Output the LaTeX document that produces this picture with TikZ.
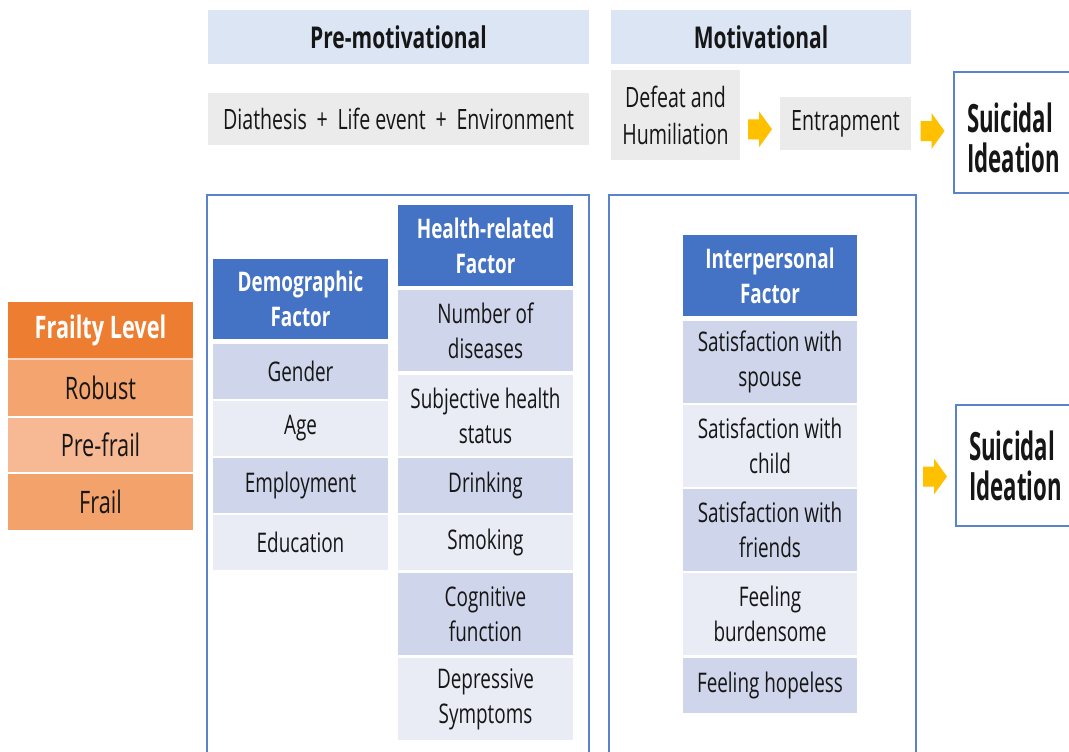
\documentclass[tikz,border=0pt]{standalone}
\usepackage{fontspec}
\setmainfont{Open Sans}[FakeStretch=0.70]
\newfontfamily\sifont{Open Sans}[FakeStretch=0.57]
\usetikzlibrary{calc}

\definecolor{hdrblue}{HTML}{DCE5F4}
\definecolor{boxgray}{HTML}{EBEBEB}
\definecolor{accblue}{HTML}{4472C4}
\definecolor{rowdark}{HTML}{CFD5EA}
\definecolor{rowlight}{HTML}{E9EBF5}
\definecolor{linkblue}{HTML}{5B83CC}
\definecolor{orghead}{HTML}{ED7D31}
\definecolor{orgrow}{HTML}{F4A46F}
\definecolor{orgrowlt}{HTML}{F7B894}
\definecolor{arrowgold}{HTML}{FFC000}
\definecolor{ink}{HTML}{161616}

\tikzset{
  base/.style={rectangle, inner sep=0pt, outer sep=0pt, anchor=north west,
    align=center, text=ink},
  body/.style={base, font=\fontsize{27}{35}\selectfont},
  phase/.style={base, fill=hdrblue, font=\fontsize{30}{35}\selectfont\bfseries},
  graybox/.style={base, fill=boxgray, font=\fontsize{28}{37}\selectfont},
  bluehead/.style={base, fill=accblue, text=white, font=\fontsize{27}{35}\selectfont\bfseries},
  dark/.style={body, fill=rowdark},
  light/.style={body, fill=rowlight},
  frailhead/.style={base, fill=orghead, text=white, font=\fontsize{31}{35}\selectfont\bfseries},
  frailrow/.style={base, font=\fontsize{31}{35}\selectfont},
  frame/.style={draw=linkblue, line width=1.3pt},
  sibox/.style={base, draw=linkblue, line width=1.3pt, fill=white, align=left,
    text width=95pt, inner xsep=13pt, minimum width=121pt, minimum height=121pt,
    font=\fontsize{39}{40}\selectfont\sifont\bfseries},
  % block arrow: shaft and head, pointing right, centred on its position
  goldarrow/.pic={
    \fill[arrowgold] (-12,-10) -- (-1,-10) -- (-1,-18) -- (12,0)
      -- (-1,18) -- (-1,10) -- (-12,10) -- cycle;
  }
}

\begin{document}
\begin{tikzpicture}[x=1pt, y=-1pt]
\clip (0,0) rectangle (1069,752);
\fill[white] (0,0) rectangle (1069,752);

% phase headers
\node[phase, minimum width=381pt, minimum height=54pt] (pre) at (208,10) {Pre-motivational};
\node[phase, minimum width=300pt, minimum height=54pt] (mot) at (611,10) {Motivational};

% pre-motivational and motivational stages
\node[graybox, minimum width=381pt, minimum height=52pt] (dia) at (208,93)
  {Diathesis \,+\, Life event \,+\, Environment};
\node[graybox, minimum width=129pt, minimum height=90pt] (defeat) at (611,70)
  {Defeat and\\Humiliation};
\node[graybox, minimum width=131pt, minimum height=53pt] (entrap) at (780,97) {Entrapment};
\node[sibox] (si1) at (954,72) {\rule{0pt}{40pt}Suicidal\\Ideation};

\pic at ($(defeat.east)!0.5!(entrap.west)+(0,10)$) {goldarrow};
\pic at ($(entrap.east)!0.5!(si1.west)+(0,3)$) {goldarrow};

% outline frames of the two stages
\draw[frame] (207,195) rectangle (589,770);
\draw[frame] (609,195) rectangle (916,770);

% frailty level table
\node[frailhead, minimum width=185pt, minimum height=56pt] (fh) at (8,302) {Frailty Level};
\fill[orgrowlt!60!white] (8,358) rectangle (193,360);
\node[frailrow, fill=orgrow, minimum width=185pt, minimum height=56pt] (robust) at (8,360) {Robust};
\node[frailrow, fill=orgrowlt, minimum width=185pt, minimum height=54pt] (prefrail) at (8,418) {Pre-frail};
\node[frailrow, fill=orgrow!95!orghead, minimum width=185pt, minimum height=56pt] (frail) at (8,474) {Frail};

% demographic factor
\node[bluehead, minimum width=175pt, minimum height=80pt] (demo) at (213,259) {Demographic\\Factor};
\node[dark,  minimum width=175pt, minimum height=55pt] (gender) at (213,344) {Gender};
\node[light, minimum width=175pt, minimum height=55pt] (age) at (213,401) {Age};
\node[dark,  minimum width=175pt, minimum height=55pt] (employ) at (213,458) {Employment};
\node[light, minimum width=175pt, minimum height=55pt] (educ) at (213,515) {Education};

% health-related factor
\node[bluehead, minimum width=175pt, minimum height=81pt] (health) at (398,205) {Health-related\\Factor};
\node[dark,  minimum width=175pt, minimum height=81pt] (ndis) at (398,290) {Number of\\diseases};
\node[light, minimum width=175pt, minimum height=81pt] (subj) at (398,375) {Subjective health\\status};
\node[dark,  minimum width=175pt, minimum height=55pt] (drink) at (398,458) {Drinking};
\node[light, minimum width=175pt, minimum height=55pt] (smoke) at (398,515) {Smoking};
\node[dark,  minimum width=175pt, minimum height=82pt] (cogn) at (398,573) {Cognitive\\function};
\node[light, minimum width=175pt, minimum height=82pt] (depr) at (398,658) {Depressive\\Symptoms};

% interpersonal factor
\node[bluehead, minimum width=174pt, minimum height=81pt] (inter) at (683,235) {Interpersonal\\Factor};
\node[dark,  minimum width=174pt, minimum height=82pt] (spouse) at (683,321) {Satisfaction with\\spouse};
\node[light, minimum width=174pt, minimum height=82pt] (child) at (683,405) {Satisfaction with\\child};
\node[dark,  minimum width=174pt, minimum height=82pt] (friends) at (683,489) {Satisfaction with\\friends};
\node[light, minimum width=174pt, minimum height=82pt] (burden) at (683,573) {Feeling\\burdensome};
\node[dark,  minimum width=174pt, minimum height=55pt] (hopeless) at (683,658) {Feeling hopeless};

% outcome of the interpersonal stage
\node[sibox] (si2) at (956,405) {Suicidal\\Ideation};
\pic at ($(si2.west)+(-21,11)$) {goldarrow};
\end{tikzpicture}
\end{document}
